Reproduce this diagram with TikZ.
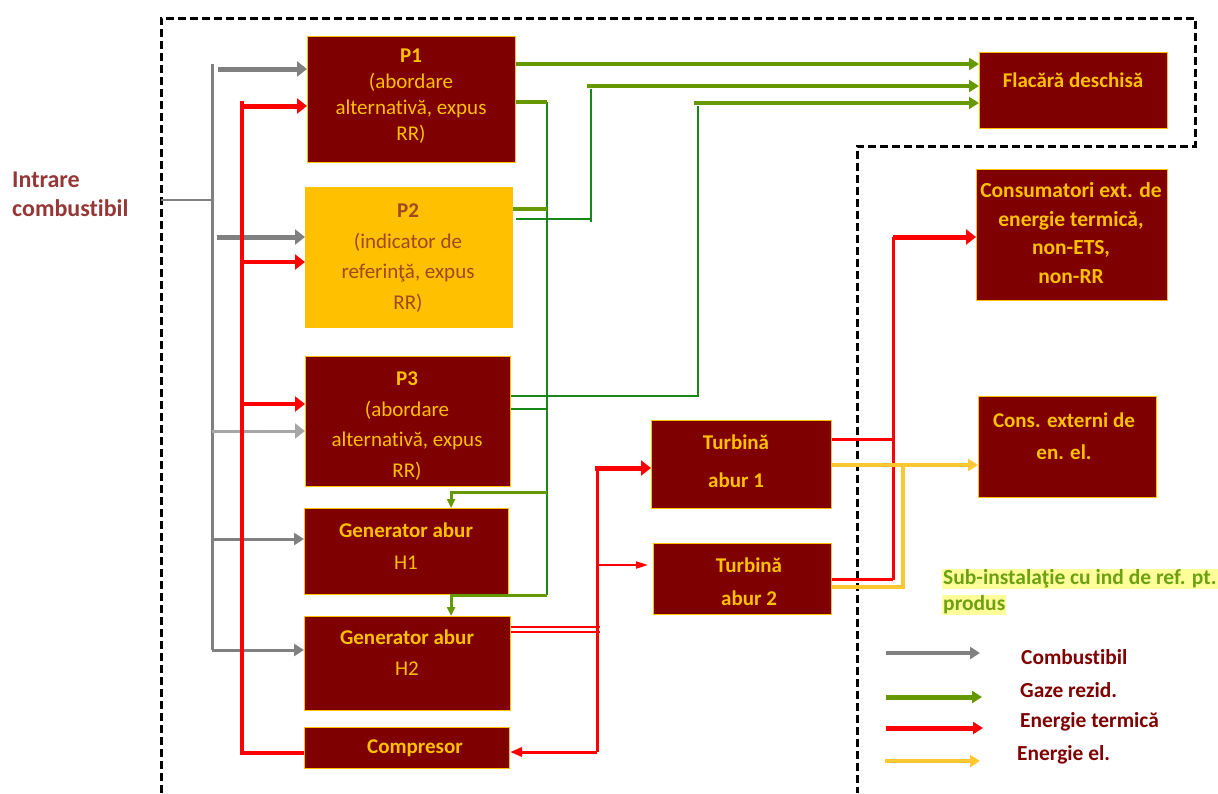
\documentclass[tikz,border=0pt]{standalone}
\usepackage{fontspec}
\setmainfont{Carlito}[Ligatures=NoCommon]
\usetikzlibrary{arrows.meta}

\definecolor{boxred}{RGB}{127,0,0}
\definecolor{boxyel}{RGB}{255,192,0}
\definecolor{ptwotext}{RGB}{160,72,30}
\definecolor{inlabel}{RGB}{150,55,55}
\definecolor{fuel}{RGB}{128,128,128}
\definecolor{fuellight}{RGB}{166,166,166}
\definecolor{heat}{RGB}{255,0,0}
\definecolor{gas}{RGB}{102,153,0}
\definecolor{gasdark}{RGB}{25,135,25}
\definecolor{elec}{RGB}{255,200,50}
\definecolor{subgreen}{RGB}{110,160,20}
\definecolor{subbg}{RGB}{255,255,153}

\tikzset{
  box/.style={draw=boxyel, fill=boxred, line width=1pt, inner sep=0pt, anchor=north west},
  boxtext/.style={text=boxyel, align=center, inner sep=0pt, font=\fontsize{21}{26}\selectfont},
  bigtip/.style={-{Triangle[length=10pt,width=15pt]}},
  midtip/.style={-{Triangle[length=10pt,width=12pt]}},
  smalltip/.style={-{Triangle[length=9pt,width=8pt]}},
  fuelline/.style={draw=fuel, line width=3pt},
  heatline/.style={draw=heat, line width=4pt},
  gasline/.style={draw=gas, line width=4pt},
  gasthin/.style={draw=gasdark, line width=2pt},
  elecline/.style={draw=elec, line width=4pt},
  border/.style={draw=black, line width=3pt, dash pattern=on 8pt off 4pt},
  legendtext/.style={text=boxred, font=\fontsize{21.4}{24}\selectfont\bfseries, anchor=west, inner sep=0pt},
}

\begin{document}
\begin{tikzpicture}[x=1pt,y=-1pt]
\useasboundingbox (0,0) rectangle (1218,793);

% system boundary
\draw[border] (161,793) -- (161,18) -- (1195,18) -- (1195,146) -- (857,146) -- (857,793);

% process boxes
\node[box, minimum width=208pt, minimum height=126pt] (P1) at (307,36) {};
\node[box, fill=boxyel, minimum width=207pt, minimum height=140pt] (P2) at (305,187) {};
\node[box, minimum width=205pt, minimum height=130pt] (P3) at (305,356) {};
\node[box, minimum width=204pt, minimum height=86pt] (H1) at (304,508) {};
\node[box, minimum width=206pt, minimum height=94pt] (H2) at (304,616) {};
\node[box, minimum width=205pt, minimum height=41pt] (Comp) at (304,727) {};
\node[box, minimum width=180pt, minimum height=88pt] (T1) at (651,420) {};
\node[box, minimum width=178pt, minimum height=71pt] (T2) at (653,543) {};
\node[box, minimum width=188pt, minimum height=76pt] (Flac) at (979,52) {};
\node[box, minimum width=191pt, minimum height=131pt] (Cons) at (976,169) {};
\node[box, minimum width=178pt, minimum height=101pt] (Cel) at (978,396) {};

% box texts
\node[boxtext] (P1t) at (411,96.5) {\textbf{P1}\\(abordare\\alternativă, expus\\RR)};
\node[boxtext, text=ptwotext, font=\fontsize{21}{30.5}\selectfont] (P2t) at (408,258) {\textbf{P2}\\(indicator de\\referinţă, expus\\RR)};
\node[boxtext, font=\fontsize{21}{30.5}\selectfont] (P3t) at (407,426) {\textbf{P3}\\(abordare\\alternativă, expus\\RR)};
\node[boxtext, font=\fontsize{21}{32}\selectfont] (H1t) at (406,546) {\textbf{Generator abur}\\H1};
\node[boxtext, font=\fontsize{21}{31}\selectfont] (H2t) at (407,653) {\textbf{Generator abur}\\H2};
\node[boxtext, font=\fontsize{21}{26}\selectfont\bfseries] (Compt) at (415,748) {Compresor};
\node[boxtext, font=\fontsize{21}{38}\selectfont\bfseries] (T1t) at (736,461) {Turbină\\abur 1};
\node[boxtext, font=\fontsize{21}{33}\selectfont\bfseries] (T2t) at (749,582) {Turbină\\abur 2};
\node[boxtext, font=\fontsize{21}{26}\selectfont\bfseries] (Flact) at (1073,80) {Flacără deschisă};
\node[boxtext, font=\fontsize{21.5}{28.5}\selectfont\bfseries] (Const) at (1071,233) {Consumatori ext. de\\energie termică,\\non-ETS,\\non-RR};
\node[boxtext, font=\fontsize{21}{32}\selectfont\bfseries] (Celt) at (1064,436) {Cons. externi de\\en. el.};

% fuel input label
\node[anchor=west, align=left, inner sep=0pt, text=inlabel, font=\fontsize{24}{29}\selectfont\bfseries] (inlbl) at (12,194) {Intrare\\combustibil};

% fuel distribution
\coordinate (fin) at (161,200);
\coordinate (ftop) at (212,64);
\coordinate (fbot) at (212,650);
\coordinate (fa) at (218,69);
\coordinate (fb) at (217,237);
\coordinate (fc) at (212,431);
\coordinate (fd) at (212,539);
\draw[draw=fuel, line width=2pt] (fin) -- (fin -| ftop);
\draw[fuelline] (ftop) -- (fbot);
\draw[fuelline, midtip] (fbot) -- (fbot -| H2.west);
\draw[fuelline, line width=5pt, bigtip] (fa) -- (fa -| P1.west);
\draw[fuelline, line width=5pt, bigtip] (fb) -- (fb -| P2.west);
\draw[fuelline, draw=fuellight, bigtip] (fc) -- (fc -| P3.west);
\draw[fuelline, midtip] (fd) -- (fd -| H1.west);

% thermal energy loop from compressor
\coordinate (htop) at (242,101);
\coordinate (hbot) at (242,753);
\coordinate (ha) at (242,106);
\coordinate (hb) at (242,262);
\coordinate (hc) at (242,404);
\draw[heatline] (htop) -- (hbot) -- (hbot -| Comp.west);
\draw[heatline, line width=5pt, bigtip] (ha) -- (ha -| P1.west);
\draw[heatline, bigtip] (hb) -- (hb -| P2.west);
\draw[heatline, bigtip] (hc) -- (hc -| P3.west);

% steam from H2 to turbines and compressor
\coordinate (sa) at (600,627);
\coordinate (sb) at (600,632);
\coordinate (stop) at (597,470);
\coordinate (sbot) at (597,752);
\coordinate (st1) at (595,468);
\coordinate (st2) at (597,565);
\draw[draw=heat, line width=2.5pt] (sa -| H2.east) -- (sa);
\draw[draw=heat, line width=2.5pt] (sb -| H2.east) -- (sb);
\draw[draw=heat, line width=3pt] (stop) -- (sbot);
\draw[draw=heat, line width=3pt, -{Triangle[length=12pt,width=9pt]}] (sbot) -- (sbot -| Comp.east);
\draw[heatline, line width=5pt, bigtip] (st1) -- (st1 -| T1.west);
\draw[draw=heat, line width=2pt, -{Triangle[length=12pt,width=7pt]}, shorten >=5pt] (st2) -- (st2 -| T2.west);

% turbine outputs: heat
\coordinate (rtop) at (893,237);
\coordinate (rbot) at (893,580);
\coordinate (r1) at (893,439);
\coordinate (r2) at (893,579);
\draw[draw=heat, line width=3pt] (rtop) -- (rbot);
\draw[draw=heat, line width=3pt] (r1 -| T1.east) -- (r1);
\draw[draw=heat, line width=3pt] (r2 -| T2.east) -- (r2);
\draw[heatline, line width=5pt, bigtip] (rtop) -- (rtop -| Cons.west);

% turbine outputs: electricity
\coordinate (e1) at (903,465);
\coordinate (e2) at (903,587);
\draw[elecline, midtip] (e1 -| T1.east) -- (e1 -| Cel.west);
\draw[elecline] (e2 -| T2.east) -- (e2) -- (e1);

% residual gases
\coordinate (g1) at (515,64);
\coordinate (g2) at (587,86);
\coordinate (g2v) at (591,89);
\coordinate (g2b) at (591,222);
\coordinate (g2h) at (516,219);
\coordinate (g3) at (694,103);
\coordinate (g3v) at (698,106);
\coordinate (g3b) at (698,396);
\coordinate (gtop) at (547,102);
\coordinate (gbot) at (547,595);
\coordinate (gp2) at (547,209);
\coordinate (gp3) at (547,409);
\coordinate (gh1) at (547,492);
\coordinate (gh1c) at (451,492);
\coordinate (gh2c) at (451,595);
\draw[gasline, midtip] (g1 -| P1.east) -- (g1 -| Flac.west);
\draw[gasline, midtip] (g2) -- (g2 -| Flac.west);
\draw[gasline, midtip] (g3) -- (g3 -| Flac.west);
\draw[gasthin] (g2v) -- (g2b);
\draw[gasthin] (g2h) -- (g2h -| g2v);
\draw[gasthin] (g3v) -- (g3b) -- (g3b -| P3.east);
\draw[gasthin] (gtop) -- (gbot);
\draw[gasline] (gtop -| P1.east) -- (gtop);
\draw[gasline] (gp2 -| P2.east) -- (gp2);
\draw[gasthin] (gp3 -| P3.east) -- (gp3);
\draw[draw=gas, line width=3pt, smalltip] (gh1) -- (gh1c) -- (gh1c |- H1.north);
\draw[draw=gas, line width=3pt, smalltip] (gbot) -- (gh2c) -- (gh2c |- H2.north);

% sub-installation note
\node[anchor=west, fill=subbg, inner sep=1pt, text=subgreen, font=\fontsize{21.5}{24}\selectfont\bfseries] (subA) at (942,579) {Sub-instalaţie cu ind de ref. pt.};
\node[anchor=west, fill=subbg, inner sep=1pt, text=subgreen, font=\fontsize{21.5}{24}\selectfont\bfseries] (subB) at (942,605) {produs};

% legend
\coordinate (la1) at (886,653);  \coordinate (la2) at (980,653);
\coordinate (lb1) at (886,697);  \coordinate (lb2) at (982,697);
\coordinate (lc1) at (886,728);  \coordinate (lc2) at (983,728);
\coordinate (ld1) at (885,761);  \coordinate (ld2) at (980,761);
\draw[fuelline, line width=4pt, midtip] (la1) -- (la2);
\draw[gasline, line width=5pt, midtip] (lb1) -- (lb2);
\draw[heatline, line width=5pt, midtip] (lc1) -- (lc2);
\draw[elecline, midtip] (ld1) -- (ld2);
\node[legendtext] (lga) at (1021,657) {Combustibil};
\node[legendtext] (lgb) at (1020,690) {Gaze rezid.};
\node[legendtext] (lgc) at (1020,722) {Energie termică};
\node[legendtext] (lgd) at (1017,755) {Energie el.};
\end{tikzpicture}
\end{document}
